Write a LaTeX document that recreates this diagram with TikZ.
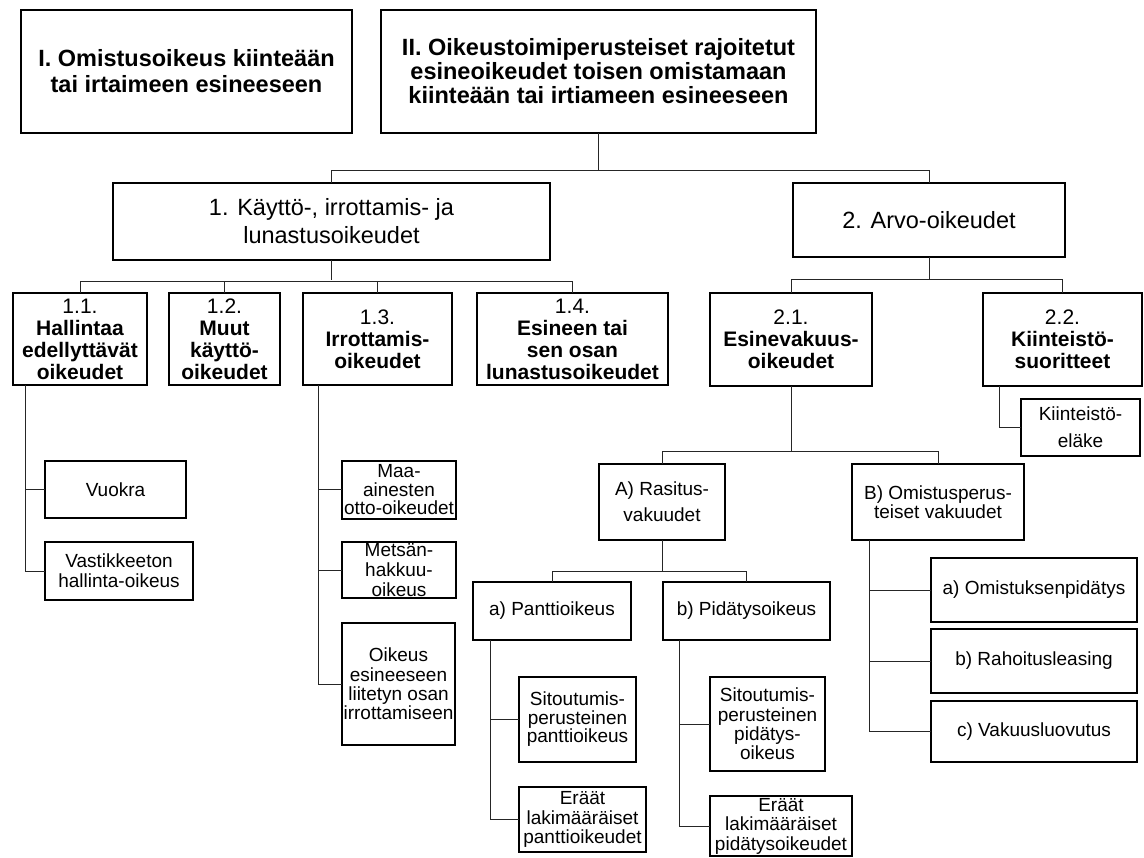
\documentclass[tikz,border=0pt]{standalone}
\usepackage{fontspec}
\setmainfont{Liberation Sans}
\begin{document}
\begin{tikzpicture}[x=1pt,y=-1pt,
  box/.style={draw, line width=2.5pt, inner sep=0pt, outer sep=0pt, align=center},
  bigbold/.style={font=\bfseries\fontsize{23.5}{#1}\selectfont},
  bigreg/.style={font=\fontsize{23.5}{#1}\selectfont},
  subbold/.style={font=\bfseries\fontsize{21}{22}\selectfont},
  small/.style={font=\fontsize{19}{#1}\selectfont},
  conn/.style={line width=1pt, draw=black!85}]
\useasboundingbox (0,0) rectangle (1144,858);

% top level
\node[box, bigbold=26, minimum width=331pt, minimum height=123pt] (I) at (186.5,71.5)
  {I. Omistusoikeus kiinteään\\tai irtaimeen esineeseen};
\node[box, bigbold=24, minimum width=435pt, minimum height=123pt] (II) at (598.5,71.5)
  {II. Oikeustoimiperusteiset rajoitetut\\esineoikeudet toisen omistamaan\\kiinteään tai irtiameen esineeseen};

% level 1
\node[box, bigreg=28, minimum width=437pt, minimum height=77pt] (B1) at (331.5,221.5)
  {1. Käyttö-, irrottamis- ja\\lunastusoikeudet};
\node[box, bigreg=28, minimum width=272pt, minimum height=74pt] (B2) at (929,220)
  {2. Arvo-oikeudet};

% level 2
\node[box, subbold, minimum width=134pt, minimum height=92pt] (b11) at (80,339)
  {\textmd{1.1.}\\Hallintaa\\edellyttävät\\oikeudet};
\node[box, subbold, minimum width=111pt, minimum height=92pt] (b12) at (224.5,339)
  {\textmd{1.2.}\\Muut\\käyttö-\\oikeudet};
\node[box, subbold, minimum width=149pt, minimum height=92pt] (b13) at (377.5,339)
  {\textmd{1.3.}\\Irrottamis-\\oikeudet};
\node[box, subbold, minimum width=191pt, minimum height=92pt] (b14) at (572.5,339)
  {\textmd{1.4.}\\Esineen tai\\sen osan\\lunastusoikeudet};
\node[box, subbold, minimum width=162pt, minimum height=93pt] (b21) at (791,339.5)
  {\textmd{2.1.}\\Esinevakuus-\\oikeudet};
\node[box, subbold, minimum width=159pt, minimum height=93pt] (b22) at (1062.5,339.5)
  {\textmd{2.2.}\\Kiinteistö-\\suoritteet};

% left leaves
\node[box, small=20, minimum width=141pt, minimum height=57pt] (vuokra) at (115.5,489.5) {Vuokra};
\node[box, small=20, minimum width=148pt, minimum height=58pt] (vast) at (119,571)
  {Vastikkeeton\\hallinta-oikeus};
\node[box, small=18.5, minimum width=114pt, minimum height=58pt] (maa) at (399,490)
  {Maa-\\ainesten\\otto-oikeudet};
\node[box, small=20, minimum width=114pt, minimum height=56pt] (mets) at (399,570)
  {Metsän-\\hakkuu-\\oikeus};
\node[box, small=19.3, minimum width=113pt, minimum height=122pt] (oik) at (398.5,684)
  {Oikeus\\esineeseen\\liitetyn osan\\irrottamiseen};

% right part
\node[box, small=27, minimum width=119pt, minimum height=57pt] (kel) at (1080.5,427.5)
  {Kiinteistö-\\eläke};
\node[box, small=26, minimum width=126pt, minimum height=76pt] (A) at (662,502)
  {A) Rasitus-\\vakuudet};
\node[box, small=18.5, minimum width=172pt, minimum height=76pt] (B) at (938,502)
  {B) Omistusperus-\\teiset vakuudet};
\node[box, small=20, minimum width=158pt, minimum height=58pt] (pa) at (552,611) {a) Panttioikeus};
\node[box, small=20, minimum width=167pt, minimum height=58pt] (pb) at (746.5,611) {b) Pidätysoikeus};
\node[box, small=20, minimum width=206pt, minimum height=64pt] (oa) at (1034,590) {a) Omistuksenpidätys};
\node[box, small=20, minimum width=206pt, minimum height=64pt] (ob) at (1034,661) {b) Rahoitusleasing};
\node[box, small=20, minimum width=206pt, minimum height=61pt] (oc) at (1034,731.5) {c) Vakuusluovutus};
\node[box, small=18.5, minimum width=117pt, minimum height=85pt] (spa) at (577.5,719.5)
  {Sitoutumis-\\perusteinen\\panttioikeus};
\node[box, small=19.5, minimum width=127pt, minimum height=65pt] (epa) at (582.5,819.5)
  {Eräät\\lakimääräiset\\panttioikeudet};
\node[box, small=19.3, minimum width=115pt, minimum height=94pt] (spb) at (767.5,724)
  {Sitoutumis-\\perusteinen\\pidätys-\\oikeus};
\node[box, small=19.5, minimum width=142pt, minimum height=60pt] (epb) at (781,826)
  {Eräät\\lakimääräiset\\pidätysoikeudet};

% connectors
\draw[conn] (II.south) -- ++(0,38);
\draw[conn] (B1.north) -- ++(0,-12) -| (B2.north);

\draw[conn] (B1.south) -- ++(0,20);
\draw[conn] (b11.north) -- ++(0,-11) -| (b14.north);
\draw[conn] (b12.north) -- ++(0,-11);
\draw[conn] (b13.north) -- ++(0,-11);

\draw[conn] (B2.south) -- ++(0,23);
\draw[conn] (b21.north) -- ++(0,-13) -| (b22.north);

\coordinate (t11) at ([xshift=12pt]b11.south west);
\draw[conn] (t11) |- (vast.west);
\draw[conn] (t11 |- vuokra.west) -- (vuokra.west);

\coordinate (t13) at ([xshift=15pt]b13.south west);
\draw[conn] (t13) |- (oik.west);
\draw[conn] (t13 |- maa.west) -- (maa.west);
\draw[conn] (t13 |- mets.west) -- (mets.west);

\coordinate (t22) at ([xshift=16pt]b22.south west);
\draw[conn] (t22) |- (kel.west);

\draw[conn] (b21.south) -- ++(0,66);
\draw[conn] (A.north) -- ++(0,-12) -| (B.north);

\draw[conn] (A.south) -- ++(0,31);
\draw[conn] (pa.north) -- ++(0,-11) -| (pb.north);

\coordinate (tpa) at ([xshift=17pt]pa.south west);
\draw[conn] (tpa) |- (epa.west);
\draw[conn] (tpa |- spa.west) -- (spa.west);

\coordinate (tpb) at ([xshift=16pt]pb.south west);
\draw[conn] (tpb) |- (epb.west);
\draw[conn] (tpb |- spb.west) -- (spb.west);

\coordinate (tB) at ([xshift=17pt]B.south west);
\draw[conn] (tB) |- (oc.west);
\draw[conn] (tB |- oa.west) -- (oa.west);
\draw[conn] (tB |- ob.west) -- (ob.west);
\end{tikzpicture}
\end{document}
